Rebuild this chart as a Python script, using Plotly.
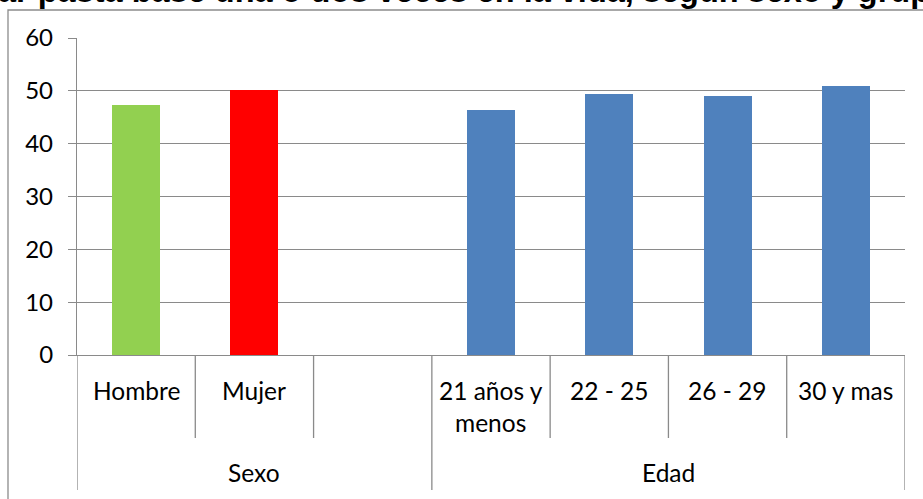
import plotly.graph_objects as go

# ---- data ----
categories = ["Hombre", "Mujer", "", "21 años y<br>menos", "22 - 25", "26 - 29", "30 y mas"]
values = [47.4, 50.1, None, 46.4, 49.4, 49.1, 50.9]
groups = ["Sexo", "Sexo", "Sexo", "Edad", "Edad", "Edad", "Edad"]
bar_colors = ["#92D050", "#FF0000", "#4F81BD", "#4F81BD", "#4F81BD", "#4F81BD", "#4F81BD"]
y_ticks = [0, 10, 20, 30, 40, 50, 60]
title_text = "ar pasta base una o dos veces en la vida, según sexo y grupo"

GRID = "#8a8a8a"
FONT = "Lato"
positions = list(range(len(categories)))

fig = go.Figure()
fig.add_trace(go.Bar(
    x=positions, y=values, width=0.405,
    marker=dict(color=bar_colors, line=dict(width=0)),
    hoverinfo="skip", showlegend=False,
))

# category labels
annotations = []
for i, lab in enumerate(categories):
    if lab:
        annotations.append(dict(x=i, xref="x", y=0, yref="paper", yanchor="top",
                                xanchor="center", yshift=-19, text=lab, showarrow=False,
                                font=dict(family=FONT, size=24.5, color="#000000")))
# group labels
group_names = []
for g in groups:
    if g not in group_names:
        group_names.append(g)
for g in group_names:
    idx = [i for i, gg in enumerate(groups) if gg == g]
    center = (idx[0] + idx[-1]) / 2
    annotations.append(dict(x=center, xref="x", y=0, yref="paper", yanchor="top",
                            xanchor="center", yshift=-101, text=g, showarrow=False,
                            font=dict(family=FONT, size=24.5, color="#000000")))
# title (cut off at top)
annotations.append(dict(x=0, xref="paper", xanchor="left", xshift=-81,
                        y=1, yref="paper", yanchor="bottom", yshift=27,
                        text="<b>" + title_text + "</b>", showarrow=False,
                        font=dict(family="Liberation Sans", size=32.5, color="#000000")))

# dividers
shapes = []
n = len(categories)
short_bottom = (355 - 438) / 317
long_bottom = (355 - 490) / 317
for k in range(n + 1):
    xb = k - 0.5
    is_group_edge = (k == 0 or k == n or groups[k - 1] != groups[k])
    shapes.append(dict(type="line", xref="x", yref="paper", x0=xb, x1=xb,
                       y0=0, y1=long_bottom if is_group_edge else short_bottom,
                       line=dict(color=GRID, width=1.3)))
# outer frame
shapes.append(dict(type="rect", xref="paper", yref="paper",
                   x0=(8 - 77) / 828, x1=1.2, y0=-0.8, y1=(355 - 10) / 317,
                   line=dict(color="#8c8c8c", width=1.3), layer="below"))

fig.update_layout(
    width=923, height=499,
    margin=dict(l=77, r=18, t=38, b=144),
    paper_bgcolor="white", plot_bgcolor="white",
    bargap=0,
    xaxis=dict(range=[-0.5, n - 0.5], showticklabels=False, ticks="",
               showgrid=False, zeroline=False, showline=True, linecolor=GRID, linewidth=1.3,
               fixedrange=True),
    yaxis=dict(range=[0, 60], tickvals=y_ticks, ticks="outside", ticklen=8,
               tickcolor=GRID, tickwidth=1.3, showgrid=True, gridcolor=GRID, gridwidth=1.3,
               zeroline=False, showline=True, linecolor=GRID, linewidth=1.3,
               ticklabelstandoff=10,
               tickfont=dict(family=FONT, size=24, color="#000000"), fixedrange=True),
    annotations=annotations,
    shapes=shapes,
)

fig.write_html("out.html", config={"displayModeBar": False},
               post_script="document.body.style.margin='0';document.body.style.overflow='hidden';")
